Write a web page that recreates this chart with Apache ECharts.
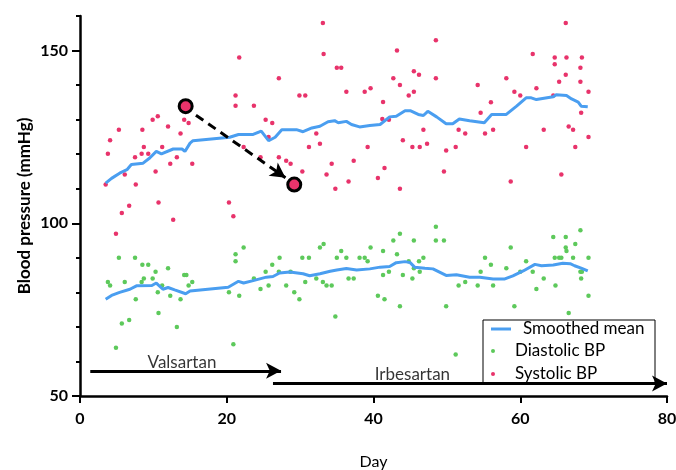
<!DOCTYPE html>
<html>
<head>
<meta charset="utf-8">
<script src="https://cdn.jsdelivr.net/npm/echarts@6/dist/echarts.min.js"></script>
<style>
html, body { margin: 0; padding: 0; background: #fff; }
#chart { width: 676px; height: 470px; }
</style>
</head>
<body>
<div id="chart"></div>
<script>
// readings as [day, mmHg]
const systolic = [[3.5,111.2],[3.8,120.1],[4.1,124],[4.9,97],[5.3,127.1],[5.7,103],[6.1,114.1],[6.7,105.1],[7.5,119.1],[7.6,111.2],[8.4,120.1],[8.5,127.1],[8.7,122.1],[9.3,120.1],[9.9,130],[10.3,115],[10.6,131],[10.7,106],[11.2,122.1],[12,128],[12.3,117.2],[12.7,101],[13.2,119.1],[13.7,126],[14.2,130],[14.4,133.9],[14.8,129],[15.3,117.2],[20.3,106],[20.9,102],[21.2,137],[21.2,134],[21.7,148],[22.3,122.1],[23.7,134],[24.6,119.1],[25.3,130],[25.7,125],[26.2,129],[27.1,142],[27.1,119.1],[28.1,118.1],[28.7,117.2],[29.2,111.2],[29.9,137],[30.3,115],[30.7,137],[31.2,122.1],[32.2,126],[32.7,123],[33.1,158],[33.2,149],[33.6,114.1],[34.3,117.2],[34.8,110],[35,145],[35.6,145],[36.3,138.1],[36.6,112.1],[37.3,118.1],[38.8,138.1],[39.2,122.1],[39.6,139.1],[40.6,113.1],[41.2,130.2],[41.3,135.1],[41.5,116],[42.1,130],[42.7,142],[43.2,150],[43.6,140],[43.6,110],[44,124],[44.8,137],[45.3,122.1],[45.5,144],[45.5,138.1],[46.2,143],[46.3,122.1],[46.8,127.1],[47.3,123],[48.5,153],[48.5,142],[49.6,115],[49.9,121.1],[51.2,122.1],[51.6,127.1],[52.5,126],[54.2,140],[54.6,132],[55.2,126],[56,135],[56.3,127.1],[58.1,142],[58.7,112.1],[59.2,138.1],[60,137],[60.8,122.1],[61.7,149],[62.2,139.1],[63.2,127.1],[64.5,137],[64.7,148],[64.7,146],[65.3,141],[65.6,114.1],[66.2,158],[66.2,143],[66.3,148],[66.6,128],[67.2,127.1],[67.5,122.1],[68.2,145],[68.2,141],[68.3,132],[68.4,148],[69.3,138.1],[69.3,125]];

const diastolic = [[3.8,83],[4.1,82],[4.9,64],[5.3,90],[5.7,71],[6.1,83],[6.7,72],[7.5,90],[7.6,78],[8.4,83],[8.5,88],[8.7,84],[9.3,88],[9.9,84],[10.3,86],[10.6,80],[10.7,74],[11.2,82],[12,87],[12.3,79],[13.2,70],[13.7,78],[14.2,85],[14.5,85],[14.8,82],[15.3,83],[20.3,80],[20.9,65],[21.2,89],[21.2,91],[21.7,79],[22.3,93],[23.7,84],[24.6,81],[25.3,86],[25.7,82],[26.2,88],[27.1,86],[27.2,90],[28.1,82],[28.7,86],[29.2,80],[29.9,78],[30.3,90],[30.7,83],[31.2,90],[32.2,84],[32.7,93],[33.1,83],[33.2,94],[33.6,82],[34.3,82],[34.8,73],[35,90],[35.6,92],[36.3,90],[36.6,84],[37.3,84],[38.1,90],[38.8,90],[39.2,89],[39.6,93],[40.6,79],[41.3,92],[41.3,85],[41.5,78],[42.1,86],[42.7,95],[43.2,91],[43.6,97],[43.6,76],[44,85],[44.8,89],[45.3,84],[45.5,95],[45.5,87],[46.2,89],[46.3,86],[46.8,90],[48.5,99],[48.5,95],[49.6,95],[49.9,76],[51.2,62],[51.6,82],[52.5,83],[54.2,82],[54.6,86],[55.2,90],[56,88],[56.3,82],[58.1,87],[58.7,93],[59.2,76],[60,86],[60.8,89],[61.7,86],[62.2,81],[63.2,84],[64.5,96],[64.7,90],[64.8,82],[65.3,90],[65.6,90],[66.2,96],[66.2,93],[66.3,92],[66.6,74],[67.2,90],[67.5,94],[68.2,98],[68.2,86],[68.3,84],[68.4,86],[69.3,90],[69.3,79]];

const systolicMean = [[3.5,111.6],[4.3,113],[5.4,114.5],[6.4,115.5],[7,117],[8.6,117.4],[9.5,118.9],[10.4,120.8],[11.1,120.1],[12.7,121.5],[13.9,121.5],[14.3,120.8],[15,123.2],[15.4,123.9],[20.4,124.9],[21.6,125.7],[23.6,125.7],[24.7,126.7],[25.7,123.9],[26.6,124.9],[27.5,127.1],[29.5,127.1],[30.4,126.5],[31.6,127.6],[32.7,128.1],[33.8,129.4],[34.7,129.7],[35.2,129.1],[36.3,129.5],[37,128.6],[38.1,127.9],[39.5,128.3],[40.9,128.6],[42.2,130.8],[43.1,131],[44.3,132.6],[45,132.6],[46.1,131.5],[46.8,131.2],[47.4,132.4],[48.6,130.8],[49.9,128.8],[50.8,128.8],[51.7,130.2],[53.1,129.7],[55.1,129.1],[56.1,131.5],[58.1,131.5],[59.5,133.9],[60.8,136.3],[61.5,136.3],[62.2,135.8],[64.5,136.6],[64.9,137.2],[66.3,137],[67,136],[67.9,135.1],[68.3,133.9],[69.2,133.7]];

const diastolicMean = [[3.5,78],[4.3,79.1],[5.4,80],[6.8,80.9],[7.7,81.9],[9.8,82],[10.4,82.7],[11.3,80.9],[12,81.4],[12.9,80.7],[14.4,79.6],[15,80.4],[20.2,81.5],[21.6,83.2],[22.3,82.7],[23.6,83.4],[25.4,84.4],[26.3,84.6],[27.2,85.6],[28.6,85.9],[30.4,85.4],[31.3,84.8],[32.7,85.4],[34.1,86.1],[35,86.5],[36.3,86.9],[37.7,86.5],[39.5,86.8],[40.9,87.3],[42.2,87.5],[43.1,88.6],[44.3,88.9],[45,88.6],[45.6,87.3],[47,87],[48.1,86.8],[49.9,84.9],[51.3,85.1],[53.1,84.4],[54.5,84.4],[56.3,83.9],[57.9,83.9],[59,84.8],[60.4,86.2],[62,88.1],[62.9,87.7],[64.5,87.9],[65.8,88.4],[66.8,88.3],[67.4,87.7],[68.3,87],[69.2,86.2]];

// the two circled systolic readings and the dashed arrow between them
const highlighted = [[14.4,133.9],[29.2,111.2]];
const changeArrow = [[15.8,131.3],[28.0,113.2]];

// treatment periods: name, start day, end day, level of arrow, label position
const treatments = ['Valsartan', 'Irbesartan'];
const treatmentStart = [1.4, 26.3];
const treatmentEnd = [27.4, 80];
const treatmentLevel = [57.3, 53.6];
const treatmentLabelAt = [[13.9, 59.7], [45.3, 56.1]];

const yTicks = [50, 100, 150];

const FONT = 'Lato';
const PINK = '#e8336b';
const GREEN = '#5dc95b';
const BLUE = '#4a9ef0';

let chart = echarts.init(document.getElementById('chart'));

let arrowLines = treatments.map(function (name, i) {
    return [
        { coord: [treatmentStart[i], treatmentLevel[i]] },
        { coord: [treatmentEnd[i], treatmentLevel[i]] }
    ];
});

let legendText = { fontFamily: FONT, fontSize: 17, color: '#000', lineHeight: 16, padding: [0, 0, 0, 7] };

let option = {
    animation: false,
    textStyle: { fontFamily: FONT },
    grid: { left: 80, right: 9, top: 16, bottom: 74, outerBoundsMode: 'none' },
    graphic: [{
        type: 'rect',
        left: 482.5,
        top: 319.5,
        z: 3,
        shape: { width: 172, height: 64 },
        style: { fill: '#fff', stroke: '#000', lineWidth: 1 }
    }],
    legend: [
        {
            data: [{ name: 'Smoothed mean', icon: 'rect' }],
            left: 491,
            top: 320.5,
            orient: 'vertical',
            padding: 0,
            itemWidth: 20,
            itemHeight: 3,
            selectedMode: false,
            z: 5,
            textStyle: legendText
        },
        {
            data: ['Diastolic BP', 'Systolic BP'],
            left: 491,
            top: 342.5,
            orient: 'vertical',
            padding: 0,
            itemWidth: 20,
            itemHeight: 4,
            itemGap: 6,
            icon: 'circle',
            selectedMode: false,
            z: 5,
            textStyle: legendText
        }
    ],
    xAxis: {
        type: 'value',
        min: 0,
        max: 80,
        interval: 20,
        name: 'Day',
        nameLocation: 'middle',
        nameGap: 58,
        nameTextStyle: { fontFamily: FONT, fontSize: 16, color: '#000' },
        axisLine: { lineStyle: { color: '#000', width: 2.5 } },
        axisTick: { length: 7, lineStyle: { color: '#000', width: 2 } },
        axisLabel: { fontFamily: FONT, fontSize: 16, fontWeight: 'bold', color: '#000', margin: 15 },
        splitLine: { show: false }
    },
    yAxis: [
        {
            type: 'value',
            min: 50,
            max: 160,
            interval: 10,
            axisLine: { show: true, lineStyle: { color: '#000', width: 2.5 } },
            axisTick: { show: true, length: 4, lineStyle: { color: '#000', width: 2 } },
            axisLabel: { show: false },
            splitLine: { show: false }
        },
        {
            type: 'value',
            position: 'left',
            min: 50,
            max: 160,
            interval: 10,
            name: 'Blood pressure (mmHg)',
            nameLocation: 'middle',
            nameGap: 47,
            nameMoveOverlap: false,
            nameTextStyle: { fontFamily: FONT, fontSize: 17, fontWeight: 'bold', color: '#000' },
            axisLine: { show: false },
            axisTick: { show: true, customValues: yTicks, length: 8, lineStyle: { color: '#000', width: 2 } },
            axisLabel: { customValues: yTicks, fontFamily: FONT, fontSize: 16, fontWeight: 'bold', color: '#000', margin: 12 },
            splitLine: { show: false }
        }
    ],
    series: [
        {
            name: 'Diastolic BP',
            type: 'scatter',
            data: diastolic,
            symbolSize: 4.5,
            itemStyle: { color: GREEN, opacity: 1 }
        },
        {
            name: 'Systolic BP',
            type: 'scatter',
            data: systolic,
            symbolSize: 4.5,
            itemStyle: { color: PINK, opacity: 1 }
        },
        {
            name: 'Smoothed mean',
            type: 'line',
            data: systolicMean,
            showSymbol: false,
            symbol: 'none',
            lineStyle: { color: BLUE, width: 3 },
            itemStyle: { color: BLUE }
        },
        {
            name: 'Smoothed mean',
            type: 'line',
            data: diastolicMean,
            showSymbol: false,
            symbol: 'none',
            lineStyle: { color: BLUE, width: 3 },
            itemStyle: { color: BLUE }
        },
        {
            name: 'highlight',
            type: 'scatter',
            data: highlighted,
            symbolSize: 13,
            z: 4,
            itemStyle: { color: PINK, borderColor: '#000', borderWidth: 3, opacity: 1 },
            markLine: {
                silent: true,
                symbol: ['none', 'arrow'],
                symbolSize: [12, 15],
                label: { show: false },
                lineStyle: { color: '#000', width: 3, type: [9, 6] },
                data: [[{ coord: changeArrow[0] }, { coord: changeArrow[1] }]]
            }
        },
        {
            name: 'treatment',
            type: 'scatter',
            data: treatmentLabelAt.map(function (p, i) { return { name: treatments[i], value: p }; }),
            symbolSize: 0,
            label: {
                show: true,
                position: 'inside',
                formatter: '{b}',
                fontFamily: FONT,
                fontSize: 17,
                color: '#000'
            },
            markLine: {
                silent: true,
                symbol: ['none', 'arrow'],
                symbolSize: [12, 15],
                label: { show: false },
                lineStyle: { color: '#000', width: 3, type: 'solid' },
                data: arrowLines
            }
        }
    ]
};

option && chart.setOption(option);
</script>
</body>
</html>
